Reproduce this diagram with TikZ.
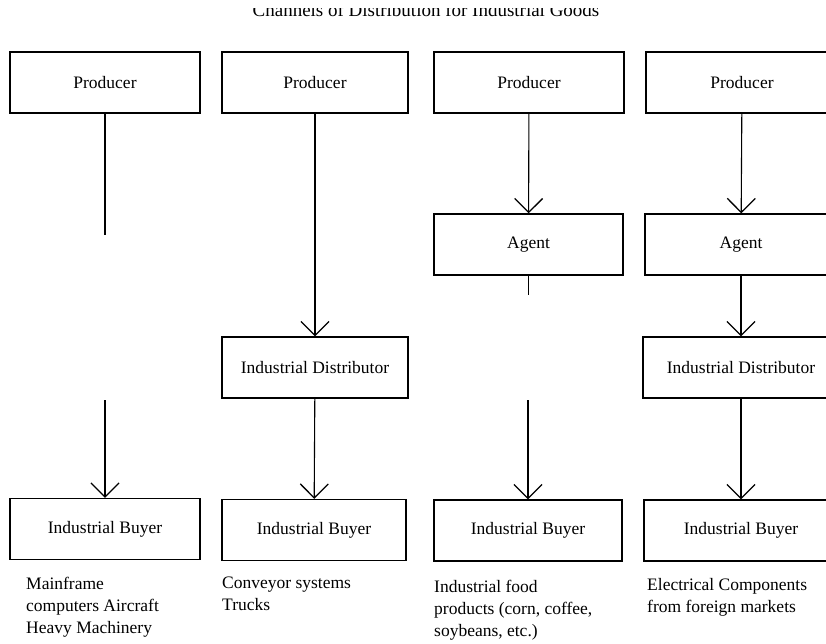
\documentclass[tikz,border=0pt]{standalone}
\usepackage{fontspec}
\setmainfont{Liberation Serif}
\usetikzlibrary{arrows.meta}

\begin{document}
\begin{tikzpicture}
  [x=1pt,y=-1pt,
   box/.style={rectangle,draw=black,line width=1.3pt,minimum height=61pt,inner sep=0pt,font=\fontsize{17.5}{21}\selectfont},
   link/.style={draw=black,line width=1.1pt},
   flow/.style={link,-{Straight Barb[length=14pt,width=28pt,line width=1.3pt]}},
   note/.style={anchor=north west,align=left,inner sep=0pt,font=\fontsize{17.5}{22}\selectfont}]
  \useasboundingbox (0,0) rectangle (826,643);
  % title, top half lost in the scan
  \begin{scope}
    \clip (0,8.5) rectangle (826,22);
    \node (T) at (426,16.5) [anchor=base,font=\fontsize{19}{23}\selectfont] {Channels of Distribution for Industrial Goods};
  \end{scope}
  % producer -> buyer
  \node (P1) at (105,82.5) [box,minimum width=190pt] {Producer};
  \node (B1) at (105,529) [box,minimum width=190pt] {Industrial Buyer};
  % producer -> distributor -> buyer
  \node (P2) at (315,82.5) [box,minimum width=186pt] {Producer};
  \node (D2) at (315,367.5) [box,minimum width=186pt] {Industrial Distributor};
  \node (B2) at (314,530) [box,minimum width=184pt] {Industrial Buyer};
  % producer -> agent -> buyer
  \node (P3) at (529,82.5) [box,minimum width=190pt] {Producer};
  \node (A3) at (528.5,244.5) [box,minimum width=189pt] {Agent};
  \node (B3) at (528,530.5) [box,minimum width=188pt] {Industrial Buyer};
  % producer -> agent -> distributor -> buyer
  \node (P4) at (742,82.5) [box,minimum width=192pt] {Producer};
  \node (A4) at (741,244.5) [box,minimum width=192pt] {Agent};
  \node (D4) at (741,367.5) [box,minimum width=196pt] {Industrial Distributor};
  \node (B4) at (741,530.5) [box,minimum width=194pt] {Industrial Buyer};
  % broken lines
  \coordinate (g1) at (105,235);
  \coordinate (h1) at (105,400);
  \coordinate (g3) at (528.5,295);
  \coordinate (h3) at (528,400);
  \draw[link] (P1) -- (g1);
  \draw[flow] (h1) -- (B1);
  \draw[flow] (P2) -- (D2);
  \draw[flow] (D2) -- (B2);
  \draw[flow] (P3) -- (A3);
  \draw[link] (A3) -- (g3);
  \draw[flow] (h3) -- (B3);
  \draw[flow] (P4) -- (A4);
  \draw[flow] (A4) -- (D4);
  \draw[flow] (D4) -- (B4);
  % examples
  \node (N1) at (26,577) [note] {Mainframe\\computers Aircraft\\Heavy Machinery};
  \node (N2) at (222,577) [note] {Conveyor systems\\Trucks};
  \node (N3) at (434,580) [note] {Industrial food\\products (corn, coffee,\\soybeans, etc.)};
  \node (N4) at (647,578) [note] {Electrical Components\\from foreign markets};
\end{tikzpicture}
\end{document}
